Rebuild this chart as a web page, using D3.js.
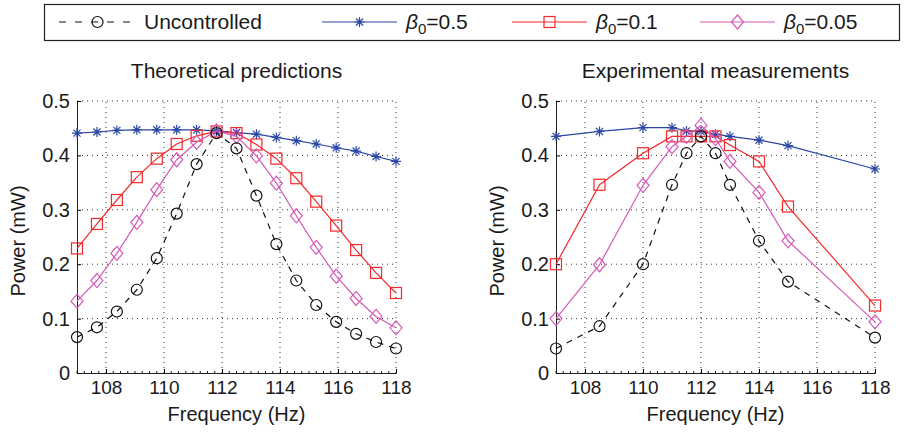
<!DOCTYPE html>
<html><head><meta charset="utf-8">
<script src="https://cdn.jsdelivr.net/npm/d3@7"></script>
<style>body{margin:0;background:#fff}svg{display:block}text{font-family:"Liberation Sans",Arial,Helvetica,sans-serif;fill:#1a1a1a}</style>
</head><body><svg id="c" width="906" height="435"></svg>
<script>
// ---- data ----
const theoFreq = [107,107.6875,108.375,109.0625,109.75,110.4375,111.125,111.8125,112.5,113.1875,113.875,114.5625,115.25,115.9375,116.625,117.3125,118];
const theoUncontrolled = [0.066,0.084,0.113,0.153,0.211,0.293,0.384,0.441,0.413,0.326,0.237,0.170,0.125,0.094,0.072,0.057,0.045];
const theoBeta05 = [0.441,0.443,0.446,0.447,0.447,0.447,0.447,0.445,0.442,0.439,0.433,0.427,0.421,0.414,0.408,0.398,0.389];
const theoBeta01 = [0.229,0.274,0.318,0.360,0.394,0.421,0.436,0.444,0.441,0.420,0.394,0.358,0.315,0.271,0.226,0.184,0.147];
const theoBeta005 = [0.132,0.170,0.220,0.277,0.337,0.392,0.424,0.445,0.435,0.399,0.349,0.289,0.231,0.178,0.137,0.104,0.083];

const expFreq = [107,108.5,110,111,111.5,112,112.5,113,114,115,118];
const expUncontrolled = [0.045,0.086,0.200,0.346,0.404,0.435,0.404,0.346,0.243,0.168,0.065];
const expBeta05 = [0.435,0.444,0.451,0.451,0.445,0.444,0.439,0.435,0.428,0.418,0.375];
const expBeta01 = [0.200,0.346,0.404,0.435,0.435,0.435,0.435,0.419,0.389,0.306,0.124];
const expBeta005 = [0.100,0.199,0.345,0.416,0.435,0.455,0.431,0.389,0.332,0.243,0.094];

const xTicks = [108,110,112,114,116,118];
const yTicks = [0,0.1,0.2,0.3,0.4,0.5];
const titles = ["Theoretical predictions","Experimental measurements"];
const seriesNames = ["Uncontrolled","0.5","0.1","0.05"];

// ---- styles ----
const styles = [
  {color:"#111", dash:"6,6", marker:"circle"},
  {color:"#2a47a6", dash:null, marker:"star"},
  {color:"#f5282a", dash:null, marker:"square"},
  {color:"#d45ab8", dash:null, marker:"diamond"}
];

const svg = d3.select("#c");

function drawMarker(g, type, x, y, color){
  if(type==="circle"){
    g.append("circle").attr("cx",x).attr("cy",y).attr("r",5.5).attr("fill","none").attr("stroke",color).attr("stroke-width",1.2);
  } else if(type==="square"){
    g.append("rect").attr("x",x-5.5).attr("y",y-5.5).attr("width",11).attr("height",11).attr("fill","none").attr("stroke",color).attr("stroke-width",1.2);
  } else if(type==="diamond"){
    g.append("path").attr("d",`M${x},${y-7}L${x+6},${y}L${x},${y+7}L${x-6},${y}Z`).attr("fill","none").attr("stroke",color).attr("stroke-width",1.2);
  } else if(type==="star"){
    const r=5;
    let d="";
    for(let k=0;k<4;k++){const a=k*Math.PI/4+Math.PI/2;d+=`M${x+r*Math.cos(a)},${y+r*Math.sin(a)}L${x-r*Math.cos(a)},${y-r*Math.sin(a)}`;}
    g.append("path").attr("d",d).attr("stroke",color).attr("stroke-width",1.2);
  }
}

function panel(x0, x1, freq, series, title){
  const x = d3.scaleLinear().domain([107,118]).range([x0,x1]);
  const y = d3.scaleLinear().domain([0,0.5]).range([373,101]);
  const g = svg.append("g");
  // grid
  g.selectAll(".gx").data(xTicks).join("line").attr("x1",d=>x(d)).attr("x2",d=>x(d)).attr("y1",373).attr("y2",101)
    .attr("stroke","#333").attr("stroke-width",1).attr("stroke-dasharray","1,4");
  g.selectAll(".gy").data(yTicks.slice(1)).join("line").attr("y1",d=>y(d)).attr("y2",d=>y(d)).attr("x1",x0).attr("x2",x1)
    .attr("stroke","#333").attr("stroke-width",1).attr("stroke-dasharray","1,4");
  // axes
  const ax = g.append("g").attr("transform","translate(0,373)")
    .call(d3.axisBottom(x).tickValues(xTicks).tickSize(-4).tickPadding(8).tickFormat(d3.format("d")));
  ax.select(".domain").attr("stroke","#222");
  ax.selectAll("text").attr("font-size",19).attr("fill","#1a1a1a");
  const minor = d3.range(107,118.001,0.25).filter(v=>!xTicks.includes(v));
  g.selectAll(".mt").data(minor).join("line").attr("x1",d=>x(d)).attr("x2",d=>x(d)).attr("y1",373).attr("y2",371).attr("stroke","#222");
  const ay = g.append("g").attr("transform",`translate(${x0},0)`)
    .call(d3.axisLeft(y).tickValues(yTicks).tickSize(-4).tickPadding(7).tickFormat(d=>d===0?"0":d3.format(".1f")(d)));
  ay.select(".domain").attr("stroke","#222");
  ay.selectAll("text").attr("font-size",20).attr("fill","#1a1a1a");
  // labels
  g.append("text").attr("x",(x0+x1)/2).attr("y",78).attr("text-anchor","middle").attr("font-size",21).text(title);
  g.append("text").attr("x",(x0+x1)/2).attr("y",421).attr("text-anchor","middle").attr("font-size",20).text("Frequency (Hz)");
  g.append("text").attr("transform",`translate(${x0-52},${(101+373)/2+4}) rotate(-90)`).attr("text-anchor","middle").attr("font-size",20).text("Power (mW)");
  // series
  const order=[1,2,3,0];
  order.forEach(i=>{
    const st=styles[i];
    const vals=series[i];
    const line=d3.line().x((d,j)=>x(freq[j])).y(d=>y(d));
    g.append("path").attr("d",line(vals)).attr("fill","none").attr("stroke",st.color).attr("stroke-width",1.2)
      .attr("stroke-dasharray",st.dash);
    vals.forEach((v,j)=>drawMarker(g,st.marker,x(freq[j]),y(v),st.color));
  });
}

panel(77,396,theoFreq,[theoUncontrolled,theoBeta05,theoBeta01,theoBeta005],titles[0]);
panel(556,875,expFreq,[expUncontrolled,expBeta05,expBeta01,expBeta005],titles[1]);

// legend
const lg = svg.append("g");
lg.append("rect").attr("x",44.5).attr("y",4.5).attr("width",855).attr("height",36).attr("fill","#fff").attr("stroke","#222").attr("stroke-width",1.2);
const legPos = [{x1:59,x2:136,tx:144},{x1:322,x2:397,tx:406},{x1:512,x2:587,tx:596},{x1:700,x2:775,tx:784}];
legPos.forEach((p,i)=>{
  const st=styles[i];
  lg.append("line").attr("x1",p.x1).attr("x2",p.x2).attr("y1",22).attr("y2",22).attr("stroke",st.color).attr("stroke-width",1.2).attr("stroke-dasharray",i===0?"7,9":null);
  drawMarker(lg,st.marker,(p.x1+p.x2)/2,22,st.color);
  const t=lg.append("text").attr("x",p.tx).attr("y",29).attr("font-size",21);
  if(i===0){t.text(seriesNames[0]);}
  else{
    t.append("tspan").attr("font-style","italic").text("β");
    t.append("tspan").attr("dy",5).attr("font-size",15).text("0");
    t.append("tspan").attr("dy",-5).text("="+seriesNames[i]);
  }
});
</script></body></html>
